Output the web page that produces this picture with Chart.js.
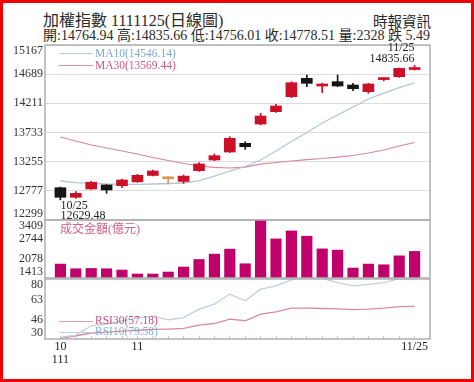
<!DOCTYPE html>
<html>
<head>
<meta charset="utf-8">
<script src="https://cdn.jsdelivr.net/npm/chart.js@4.4.1/dist/chart.umd.min.js"></script>
<style>
  html, body { margin:0; padding:0; background:#fff; }
  body { position:relative; width:474px; height:382px; overflow:hidden;
         font-family:"Liberation Serif","Noto Sans CJK TC",serif; color:#2a2a2a; }
  .box { position:absolute; left:0; width:474px; }
  .t { position:absolute; white-space:nowrap; line-height:1; }
  .ln { position:absolute; height:1px; width:34px; left:59px; }
  #border { position:absolute; left:0; top:0; width:474px; height:382px; box-sizing:border-box;
            border:3px solid #f00000; pointer-events:none; }
</style>
</head>
<body>
<div class="t" style="left:43px; top:13px; font-size:16px;">加權指數 1111125(日線圖)</div>
<div class="t" style="left:373px; top:14.5px; font-size:14.5px;">時報資訊</div>
<div class="t" id="quote" style="left:43px; top:29px; font-size:14px;"></div>

<div class="box" style="top:38px;height:185px;"><canvas id="cMain" width="474" height="185"></canvas></div>
<div class="box" style="top:216px;height:66px;"><canvas id="cVol" width="474" height="66"></canvas></div>
<div class="box" style="top:275px;height:95px;"><canvas id="cRsi" width="474" height="95"></canvas></div>

<div class="ln" style="top:53px; background:#b9c9d6;"></div>
<div class="t" id="lgMa10" style="left:95px; top:47.5px; font-size:11.5px; color:#7ea9cc;"></div>
<div class="ln" style="top:65px; background:#d993ab;"></div>
<div class="t" id="lgMa30" style="left:95px; top:59.5px; font-size:11.5px; color:#c95a86;"></div>

<div class="t" style="left:60px; top:222.5px; font-size:12px; color:#d0608a;">成交金額(億元)</div>

<div class="ln" style="top:320.5px; background:#dd9fb4;"></div>
<div class="t" id="lgR30" style="left:95px; top:314.7px; font-size:11.5px; color:#c64f7e;"></div>
<div class="ln" style="top:331.5px; background:#c3d2dc;"></div>
<div class="t" id="lgR10" style="left:95px; top:325.7px; font-size:11.5px; color:#7fb0d6;"></div>

<div id="border"></div>

<script>
// ---------------- data ----------------
const dates = ['10/25','10/26','10/27','10/28','10/31','11/01','11/02','11/03','11/04','11/07','11/08','11/09',
               '11/10','11/11','11/14','11/15','11/16','11/17','11/18','11/21','11/22','11/23','11/24','11/25'];
const openP  = [12828, 12671, 12807, 12873, 12861, 12924, 13029, 12975, 12931, 13107, 13282, 13413,
                13556, 13872, 14074, 14320, 14621, 14495, 14566, 14511, 14402, 14600, 14647, 14764.94];
const highP  = [12840, 12766, 12933, 12880, 12971, 13048, 13118, 13008, 13036, 13238, 13381, 13664,
                13582, 14048, 14195, 14566, 14675, 14539, 14675, 14539, 14539, 14630, 14790, 14835.66];
const lowP   = [12629.48, 12654, 12802, 12737, 12828, 12917, 13020, 12889, 12901, 13097, 13271, 13402,
                13458, 13856, 14064, 14303, 14484, 14385, 14484, 14418, 14375, 14580, 14637, 14756.01];
const closeP = [12671, 12736, 12917, 12791, 12955, 13031, 13102, 12975, 13018, 13217, 13353, 13638,
                13500, 14003, 14167, 14549, 14539, 14528, 14495, 14451, 14528, 14612, 14784, 14778.51];
const ma10 = [12938, 12913, 12900, 12889, 12884, 12884, 12889, 12897, 12905, 12946, 13020, 13102,
              13176, 13282, 13430, 13585, 13733, 13889, 14020, 14151, 14282, 14380, 14470, 14546.14];
const ma30 = [13659, 13594, 13528, 13479, 13430, 13381, 13323, 13274, 13225, 13184, 13163, 13151,
              13167, 13216, 13241, 13266, 13290, 13307, 13331, 13356, 13397, 13446, 13512, 13569.44];
const volume = [1892, 1731, 1742, 1731, 1687, 1550, 1550, 1618, 1790, 2050, 2235, 2406,
                1903, 3409, 2759, 3033, 2851, 2416, 2372, 1755, 1892, 1868, 2176, 2328];
const rsi10 = [31.3, 33.3, 41.0, 42.5, 45.0, 47.5, 49.0, 46.0, 47.9, 54.9, 59.0, 67.3,
               61.8, 71.5, 74.2, 79.3, 82.0, 80.5, 77.0, 74.2, 75.6, 77.0, 80.3, 79.58];
const rsi30 = [30.5, 32.7, 35.0, 35.8, 36.5, 37.3, 38.0, 38.3, 38.8, 41.6, 42.9, 46.6,
               45.2, 50.7, 52.6, 55.7, 55.7, 55.4, 55.1, 54.5, 54.9, 55.7, 57.0, 57.18];
const priceTicks  = [15167, 14689, 14211, 13733, 13255, 12777, 12299];
const volumeTicks = [3409, 2744, 2078, 1413];
const rsiTicks    = [80, 63, 46, 30];
const xTickIndex  = [0, 5, 23];
const xTickText   = [['10', '111'], '11', '11/25'];

// ---------------- text built from data ----------------
const L = dates.length - 1;
const chg = closeP[L] - closeP[L - 1];
document.getElementById('quote').textContent =
  '開:' + openP[L].toFixed(2) + ' 高:' + highP[L].toFixed(2) + ' 低:' + lowP[L].toFixed(2) +
  ' 收:' + closeP[L].toFixed(2) + ' 量:' + volume[L] + (chg < 0 ? ' 跌 ' : ' 漲 ') + Math.abs(chg).toFixed(2);
document.getElementById('lgMa10').textContent = 'MA10(' + ma10[L].toFixed(2) + ')';
document.getElementById('lgMa30').textContent = 'MA30(' + ma30[L].toFixed(2) + ')';
document.getElementById('lgR30').textContent = 'RSI30(' + rsi30[L].toFixed(2) + ')';
document.getElementById('lgR10').textContent = 'RSI10(' + rsi10[L].toFixed(2) + ')';

// ---------------- chart setup ----------------
Chart.defaults.font.family = '"Liberation Serif", serif';
Chart.defaults.font.size = 12;
Chart.defaults.color = '#333';
Chart.defaults.animation = false;
Chart.defaults.plugins.legend.display = false;
Chart.defaults.plugins.tooltip.enabled = false;

const idx = dates.map((d, i) => i);
const UP = '#cc1028', DOWN = '#151515', FLAT = '#e0944f';
const candleColor = idx.map(i => closeP[i] > openP[i] ? UP : (closeP[i] < openP[i] ? DOWN : FLAT));

function yAxisFit(scale) { scale.width = 45; scale.paddingTop = 0; scale.paddingBottom = 0; }

const framePlugin = {
  id: 'panelFrame',
  afterDraw(chart) {
    const { ctx, chartArea: a } = chart;
    ctx.save();
    ctx.strokeStyle = '#b0b0b0';
    ctx.lineWidth = 1.5;
    ctx.strokeRect(a.left, a.top, a.right - a.left, a.bottom - a.top);
    ctx.restore();
  }
};

const edgeLabels = {
  id: 'edgeLabels',
  afterDraw(chart, args, opts) {
    const ys = chart.scales.y, a = chart.chartArea, ctx = chart.ctx;
    ctx.save();
    ctx.font = '12px "Liberation Serif"';
    ctx.fillStyle = '#333';
    ctx.textAlign = 'right';
    ctx.textBaseline = 'middle';
    opts.values.forEach(v => {
      let p = ys.getPixelForValue(v);
      p = Math.min(Math.max(p, a.top + opts.inset), a.bottom - opts.inset);
      ctx.fillText(String(v), a.left - 2, p);
    });
    ctx.restore();
  }
};

const extremes = {
  id: 'extremes',
  afterDraw(chart) {
    const xs = chart.scales.x, ys = chart.scales.y, ctx = chart.ctx;
    const iLo = lowP.indexOf(Math.min(...lowP));
    const iHi = highP.indexOf(Math.max(...highP));
    ctx.save();
    ctx.font = '12px "Liberation Serif"';
    ctx.fillStyle = '#222';
    ctx.textAlign = 'left';
    ctx.textBaseline = 'top';
    let x = xs.getPixelForValue(iLo), y = ys.getPixelForValue(lowP[iLo]);
    ctx.fillText(dates[iLo], x, y);
    ctx.fillText(lowP[iLo].toFixed(2), x, y + 10);
    ctx.textAlign = 'right';
    ctx.textBaseline = 'bottom';
    x = xs.getPixelForValue(iHi); y = ys.getPixelForValue(highP[iHi]);
    ctx.fillText(highP[iHi].toFixed(2), x, y);
    ctx.fillText(dates[iHi], x, y - 11);
    ctx.restore();
  }
};

const xRange = { type: 'linear', min: -1, max: dates.length, offset: false, display: false };

// ---- price panel ----
new Chart(document.getElementById('cMain'), {
  type: 'bar',
  data: {
    datasets: [
      { type: 'line', data: idx.map(i => ({ x: i, y: ma10[i] })), borderColor: '#b4c6d4', borderWidth: 1.3, pointRadius: 0, order: 3 },
      { type: 'line', data: idx.map(i => ({ x: i, y: ma30[i] })), borderColor: '#d6869f', borderWidth: 1.2, pointRadius: 0, order: 3 },
      { type: 'bar', data: idx.map(i => ({ x: i, y: [lowP[i], highP[i]] })), backgroundColor: candleColor,
        barThickness: 1, grouped: false, order: 2 },
      { type: 'bar', data: idx.map(i => ({ x: i, y: [openP[i], closeP[i]] })), backgroundColor: candleColor,
        barThickness: 11, minBarLength: 2, grouped: false, order: 1 }
    ]
  },
  options: {
    responsive: false, devicePixelRatio: 1,
    layout: { padding: { top: 7, bottom: 3, left: 0, right: 44 } },
    scales: {
      x: xRange,
      y: { min: Math.min(...priceTicks), max: Math.max(...priceTicks),
           afterBuildTicks: s => { s.ticks = priceTicks.map(v => ({ value: v })); },
           ticks: { display: false }, grid: { color: '#dcdcdc', drawTicks: false }, border: { display: false },
           afterFit: yAxisFit }
    },
    plugins: { edgeLabels: { values: priceTicks, inset: 6 } }
  },
  plugins: [framePlugin, edgeLabels, extremes]
});

// ---- volume panel ----
new Chart(document.getElementById('cVol'), {
  type: 'bar',
  data: {
    datasets: [
      { data: idx.map(i => ({ x: i, y: volume[i] })), backgroundColor: '#c1006b', barThickness: 10.5,
        base: Math.min(...volumeTicks), clip: 0 }
    ]
  },
  options: {
    responsive: false, devicePixelRatio: 1,
    layout: { padding: { top: 4, bottom: 4, left: 0, right: 44 } },
    scales: {
      x: xRange,
      y: { min: Math.min(...volumeTicks), max: Math.max(...volumeTicks),
           ticks: { display: false }, grid: { display: false }, border: { display: false }, afterFit: yAxisFit }
    },
    plugins: { edgeLabels: { values: volumeTicks, inset: 6 } }
  },
  plugins: [framePlugin, edgeLabels]
});

// ---- RSI panel ----
new Chart(document.getElementById('cRsi'), {
  type: 'line',
  data: {
    datasets: [
      { data: idx.map(i => ({ x: i, y: rsi10[i] })), borderColor: '#bfd0dc', borderWidth: 1.3, pointRadius: 0 },
      { data: idx.map(i => ({ x: i, y: rsi30[i] })), borderColor: '#d88aa4', borderWidth: 1.3, pointRadius: 0 }
    ]
  },
  options: {
    responsive: false, devicePixelRatio: 1,
    layout: { padding: { top: 4, bottom: 0, left: 0, right: 44 } },
    scales: {
      x: { type: 'linear', min: -1, max: dates.length, offset: false,
           afterBuildTicks: s => { s.ticks = idx.map(i => ({ value: i })); },
           ticks: { autoSkip: false, maxRotation: 0, padding: 5, color: '#222',
                    font: { size: 12, lineHeight: 1.05 },
                    callback: v => { const k = xTickIndex.indexOf(v); return k >= 0 ? xTickText[k] : ''; } },
           grid: { drawOnChartArea: false, drawTicks: true, tickLength: -3, color: '#c8c8c8' },
           border: { display: false },
           afterFit: s => { s.height = 31; s.paddingLeft = 0; s.paddingRight = 0; } },
      y: { min: Math.min(...rsiTicks), max: Math.max(...rsiTicks),
           ticks: { display: false }, grid: { display: false }, border: { display: false }, afterFit: yAxisFit }
    },
    plugins: { edgeLabels: { values: rsiTicks, inset: 6 } }
  },
  plugins: [framePlugin, edgeLabels]
});
</script>
</body>
</html>
